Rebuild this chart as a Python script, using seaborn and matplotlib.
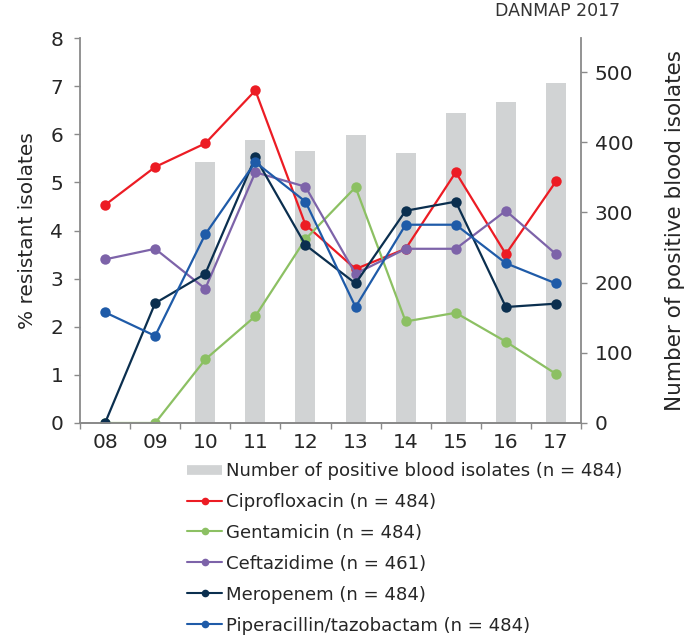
import numpy as np
import pandas as pd
import matplotlib
matplotlib.use("Agg")
import matplotlib.pyplot as plt
from matplotlib.lines import Line2D
import seaborn as sns

years = ["08", "09", "10", "11", "12", "13", "14", "15", "16", "17"]
blood_isolates = [0, 0, 372, 403, 388, 411, 385, 442, 458, 484]
ciprofloxacin = [4.53, 5.32, 5.81, 6.91, 4.12, 3.20, 3.62, 5.21, 3.51, 5.02]
gentamicin = [0.0, 0.0, 1.32, 2.22, 3.82, 4.90, 2.11, 2.29, 1.69, 1.02]
ceftazidime = [3.40, 3.62, 2.79, 5.21, 4.91, 3.10, 3.62, 3.62, 4.41, 3.51]
meropenem = [0.0, 2.49, 3.10, 5.52, 3.70, 2.90, 4.41, 4.60, 2.41, 2.48]
piperacillin = [2.30, 1.81, 3.92, 5.42, 4.60, 2.41, 4.12, 4.12, 3.32, 2.90]

series_names = ["Ciprofloxacin (n = 484)", "Gentamicin (n = 484)", "Ceftazidime (n = 461)",
                "Meropenem (n = 484)", "Piperacillin/tazobactam (n = 484)"]
series_values = [ciprofloxacin, gentamicin, ceftazidime, meropenem, piperacillin]
colors = ["#ec1c24", "#8cc063", "#7d63a9", "#0b2f4f", "#1f5ba8"]
bar_label = "Number of positive blood isolates (n = 484)"
bar_color = "#d1d3d4"

sns.set_style("white")
plt.rcParams['font.family'] = ['DejaVu Sans']

fig = plt.figure(figsize=(6.86, 6.37), dpi=100)
ax = fig.add_axes([80/686, 1-423/637, 501/686, 385/637])
ax2 = ax.twinx()

bar_df = pd.DataFrame({"year": years, "n": blood_isolates})
sns.barplot(data=bar_df, x="year", y="n", color=bar_color, width=0.4, ax=ax2,
            saturation=1, edgecolor="none")

rows = []
for name, vals in zip(series_names, series_values):
    for i, v in enumerate(vals):
        rows.append({"pos": i, "val": v, "drug": name})
line_df = pd.DataFrame(rows)
sns.lineplot(data=line_df, x="pos", y="val", hue="drug", palette=colors,
             marker="o", markersize=7.5, markeredgewidth=0, linewidth=1.6,
             ax=ax, legend=False)

ax.set_zorder(ax2.get_zorder() + 1)
ax.patch.set_visible(False)

ax.set_xlim(-0.5, 9.5)
ax.set_ylim(0, 8)
ax2.set_ylim(0, 548.5)
ax.set_yticks(range(0, 9))
ax2.set_yticks(range(0, 501, 100))
ax.set_xticks(range(10))
ax.set_xticklabels(years)
ax.set_xticks(np.arange(-0.5, 10, 1), minor=True)

spine_c = "#8a8a8a"
for a in (ax, ax2):
    for s in a.spines.values():
        s.set_color(spine_c)
        s.set_linewidth(1.3)
    a.spines["top"].set_visible(False)
    a.grid(False)
ax.spines["right"].set_visible(False)
ax2.spines["left"].set_visible(False)

ax.tick_params(axis="y", which="major", direction="out", length=4, width=1.0,
               color=spine_c, labelsize=14.5, left=True, pad=8)
ax.tick_params(axis="x", which="major", length=0, labelsize=14.5, pad=7)
ax.tick_params(axis="x", which="minor", direction="out", length=4, width=1.0,
               color=spine_c, bottom=True)
ax2.tick_params(axis="y", direction="out", length=4, width=1.0, color=spine_c,
                labelsize=14.5, right=True, pad=6)

ax.set_xlabel("")
ax.set_ylabel("% resistant isolates", fontsize=14.5, labelpad=10)
ax2.set_xlabel("")
ax2.set_ylabel("Number of positive blood isolates", fontsize=15.5, labelpad=23)

handles = [Line2D([0], [0], color=bar_color, linewidth=7, solid_capstyle="butt")]
for c in colors:
    handles.append(Line2D([0], [0], color=c, linewidth=1.5, marker="o", markersize=5.5,
                          markeredgewidth=0))
labels = [bar_label] + series_names
fig.legend(handles, labels, loc="upper left", bbox_to_anchor=(187/686, 1-462/637),
           frameon=False, fontsize=13.1, handlelength=1.95, handletextpad=0.22,
           labelspacing=0.71, borderpad=0, borderaxespad=0)

fig.text(620/686, 1-16/637, "DANMAP 2017", ha="right", va="baseline", fontsize=12.5,
         color="#333333")

fig.savefig("out.png", dpi=100)
